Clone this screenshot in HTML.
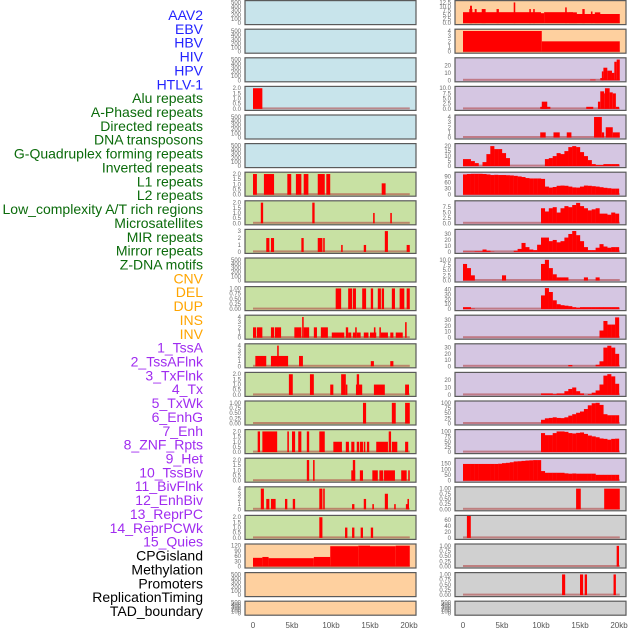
<!DOCTYPE html>
<html><head><meta charset="utf-8">
<style>
html,body{margin:0;padding:0;background:#fff;}
svg{display:block;font-family:"Liberation Sans",sans-serif;}
</style></head>
<body>
<svg id="chart" width="630" height="630" viewBox="0 0 630 630" xmlns="http://www.w3.org/2000/svg">
<g id="labels"></g>
<g id="panels"></g>
<g id="xaxis"></g>
</svg>
<script>
const trackLabels = ["AAV2","EBV","HBV","HIV","HPV","HTLV-1","Alu repeats","A-Phased repeats","Directed repeats","DNA transposons","G-Quadruplex forming repeats","Inverted repeats","L1 repeats","L2 repeats","Low_complexity A/T rich regions","Microsatellites","MIR repeats","Mirror repeats","Z-DNA motifs","CNV","DEL","DUP","INS","INV","1_TssA","2_TssAFlnk","3_TxFlnk","4_Tx","5_TxWk","6_EnhG","7_Enh","8_ZNF_Rpts","9_Het","10_TssBiv","11_BivFlnk","12_EnhBiv","13_ReprPC","14_ReprPCWk","15_Quies","CPGisland","Methylation","Promoters","ReplicationTiming","TAD_boundary"];
const labelGroups = [0,0,0,0,0,0,1,1,1,1,1,1,1,1,1,1,1,1,1,2,2,2,2,2,3,3,3,3,3,3,3,3,3,3,3,3,3,3,3,4,4,4,4,4];
const xTickValues = [0,5,10,15,20];
const xTickLabels = ["0","5kb","10kb","15kb","20kb"];

// left-column segment data [startKb, endKb, value]
const L3 = [[0,1.2,2]];
const L6 = [[0,0.5,2],[1.4,2.7,2],[4.4,4.9,2],[5.5,6.2,2],[6.5,7.1,2],[8.3,9.2,2],[9.4,9.9,2],[16.5,17.0,1.1]];
const L7 = [[1.0,1.3,2],[7.6,7.9,2],[15.4,15.6,1],[17.6,17.8,1]];
const L8 = [[1.7,2.1,2],[2.3,2.7,2],[6.2,6.5,2],[8.3,8.9,2],[9.0,9.2,2],[11.3,11.5,1],[14.2,14.5,1],[16.9,17.3,3],[19.7,20.1,1]];
const L10 = [[10.6,11.3,1],[12.2,12.7,1],[12.8,13.2,1],[14.0,14.5,1],[15.1,15.4,1],[16.0,16.4,1],[16.5,16.8,1],[17.8,18.2,1],[18.8,19.4,1],[19.7,20.1,1]];
const L11 = [[0,0.4,2],[0.5,1.2,2],[2.3,2.7,2],[2.8,3.6,2],[5.3,6.2,2],[6.3,6.5,4],[6.5,7.2,2],[7.8,8.2,2],[8.7,9.6,2],[10.1,11.7,1],[11.9,12.2,2],[12.2,12.6,1],[12.8,13.2,1],[13.1,13.3,2],[13.3,13.8,1],[14.2,14.8,1],[15.0,15.8,1],[15.5,15.7,2],[16.2,16.4,2],[16.4,17.3,1],[17.6,18.0,1],[18.3,19.2,1],[19.5,19.7,3]];
const L12 = [[0.3,1.7,2],[2.3,4.5,2],[3.1,3.3,4],[5.9,6.4,2],[15.1,15.5,1],[17.6,18.0,1]];
const L13 = [[4.6,5.1,2],[7.3,7.8,2],[9.9,10.3,1],[11.3,11.9,2],[11.9,12.1,1],[13.2,14.0,1],[13.3,13.6,2],[15.5,16.9,1],[19.5,20.0,1]];
const L14 = [[14.1,14.5,1],[17.8,18.3,1],[19.5,20.1,1]];
const L15 = [[0.6,0.9,2],[1.2,3.1,2],[4.4,4.6,2],[5.0,5.4,2],[5.8,6.2,2],[6.9,7.2,2],[8.5,9.2,2],[10.3,11.4,1],[11.9,12.3,1],[12.6,13.0,1],[13.3,13.6,1],[13.7,14.1,1],[14.2,14.4,1],[14.6,14.9,1],[15.8,17.3,1],[17.4,17.7,2],[17.8,18.5,1],[19.5,19.9,1]];
const L16 = [[6.9,7.2,2],[7.7,7.9,2],[12.6,13.1,1],[12.8,13.1,2],[13.7,14.1,1],[15.3,16.0,1],[16.2,16.7,1],[16.8,18.2,1],[19.0,19.7,1],[19.9,20.1,1]];
const L17 = [[1.0,1.4,4],[1.7,2.1,2],[2.3,2.9,2],[4.1,4.4,2],[5.1,5.4,2],[8.5,8.9,4],[9.0,9.2,4],[12.7,13.0,1],[14.2,14.5,2],[15.3,15.5,1],[16.9,17.3,3],[18.1,18.3,1],[19.6,20.0,1],[19.8,20.0,2]];
const L18 = [[8.5,8.9,2],[11.8,12.1,1],[12.7,13.0,1],[13.8,14.1,1],[15.1,15.4,1]];
const L19 = [[0,1.2,50],[1.2,2.0,55],[2.0,7.8,48],[7.8,9.9,55],[9.9,13.5,117],[13.5,15.0,120],[15.0,18.3,117],[18.3,20.1,120]];

// right-column segment data
const R0 = [[0,10,6.6],[10,10.4,6],[10.4,14.1,6.6],[14.1,20.1,5.5],[0.8,1.2,8.5],[0.9,1.15,10.5],[1.5,1.75,8.5],[2.4,2.9,8.5],[4.3,4.6,8.5],[6.5,6.7,12.5],[8.5,8.7,8.5],[9.0,9.2,8.5],[13.1,13.3,9.5],[13.6,14.6,6.5],[15.3,15.6,8.5],[16.4,16.6,7],[16.9,17.6,6.5]];
const R1 = [[0,10.1,4],[10.1,20.1,2]];
const R2 = [[16.3,17.0,1],[17.6,18.0,3],[17.8,18.0,12],[18.0,18.5,17],[18.5,19.1,13],[19.1,19.4,10],[19.4,19.7,25],[19.7,20.1,28]];
const R3 = [[9.9,11.2,1],[10.1,10.8,3.5],[15.8,16.7,1],[17.3,17.6,3.5],[17.6,18.1,8.5],[18.1,18.2,7.5],[18.2,18.8,10],[18.8,19.2,8],[19.2,19.6,7.5],[19.6,20.0,1]];
const R4 = [[9.9,10.6,1],[11.6,12.4,1],[13.3,13.9,1],[16.8,17.8,4],[17.8,18.1,1],[18.3,19.2,2],[19.2,20.1,1]];
const R17 = [[14.5,15.1,1],[18.1,20.1,1]];
const R18 = [[0.5,1.0,75]];
const R19 = [[19.7,20.0,1]];
const R20 = [[12.7,13.1,1],[15.0,15.4,1],[15.6,15.9,1],[19.3,19.6,1]];

// right-column binned data (0.5 kb bins, 40 bins)
const R5 = [7,7,5,3,0, 4,12,20,17,17, 13,8,0,0,0, 0,0,0,0,0, 0,7,8,10,13, 12,15,19,20,19, 14,10,6,2,1, 1,2,2,2,2];
const R6 = [100,102,103,103,103, 102,100,97,98,97, 97,96,95,93,90, 87,82,80,80,80, 78,40,35,38,44, 45,44,40,36,35, 40,45,44,42,40, 37,34,32,30,30];
const R7 = [0,0,0,0,0, 0,0,0,0,0, 0,0,0,0,0, 0,0,0,0,0, 7,5.5,7,7.5,5, 7,8,7.5,8.5,9.5, 8,7,6,6.5,7, 4.5,4.5,4,5,4.5];
const R8 = [0.5,0.5,0.5,1,1, 4,2,0.5,0,0, 0,0,0,2,5, 15,8,4,3,12, 24,24,18,20,16, 18,24,30,35,28, 18,8,3,3,7, 13,9,7,8,8];
const R9 = [8,6,2.5,0,0, 0,0,0,0,0, 2.5,0,0,0,0, 0,0,0,0,0, 8,10,6,3,1.5, 1.5,1.5,0,0,0, 0,1.5,0,0,1.5, 0,0,0,0,0];
const R10 = [4,4,1,0,0, 0,0,0,0,0, 0,0,0,0,0, 0,0,0,0,0, 28,43,35,18,10, 8,7,6,4,3, 4,4,4,4,4, 4,4,4,4,4];
const R11 = [0,0,0,0,0, 0,0,0,0,0, 0,0,0,0,0, 0,0,0,0,0, 0,0,0,0,0, 0,0,0,0,0, 0,0,0,0,0, 12,28,22,22,34];
const R12 = [0,0,0,0,0, 0,0,0,0,0, 0,0,0,0,0, 0,0,0,0,0, 0,0,0,0,0, 0,0,2,0,0, 0,0,0,0,2.5, 8,30,33,30,20];
const R13 = [0,0,0,0,0, 0,0,0,0,0, 0,0,0,0,0, 0,0,0,0,0, 2,2,2,1,2, 2,5,8,10,5, 2,0,1,3,6, 14,26,28,25,15];
const R14 = [0,0,0,0,0, 0,0,0,0,0, 0,0,0,0,0, 0,0,0,0,0, 18,25,27,30,27, 26,30,38,45,52, 58,70,88,98,100, 90,45,40,40,40];
const R15 = [0,0,0,0,0, 0,0,0,0,0, 0,0,0,0,0, 0,0,0,0,0, 92,82,82,92,100, 100,98,92,90,93, 95,88,80,76,72, 66,64,60,64,65];
const R16 = [148,148,148,148,148, 148,148,148,148,150, 155,158,163,170,172, 175,178,180,182,182, 85,70,70,70,70, 70,65,62,64,62, 62,62,62,62,52, 52,52,52,52,52];

// tick label sets
const tEmpty = ["0","100","200","300","400","500"];
const tEmptyV = [0,100,200,300,400,500];
const t2 = ["0.0","0.5","1.0","1.5","2.0"]; const t2V = [0,0.5,1,1.5,2];
const t1 = ["0.00","0.25","0.50","0.75","1.00"]; const t1V = [0,0.25,0.5,0.75,1];
const t4 = ["0","1","2","3","4"]; const t4V = [0,1,2,3,4];
const t3 = ["0","1","2","3"]; const t3V = [0,1,2,3];

const BG = {blue:"#c8e4eb", green:"#c8e1a3", peach:"#fed09f", lav:"#d5c6e2", gray:"#d0d0d0"};

const panels = [
 // left column
 {c:0,r:0,bg:"blue",tv:tEmptyV,tl:tEmpty,ymax:520},
 {c:0,r:1,bg:"blue",tv:tEmptyV,tl:tEmpty,ymax:520},
 {c:0,r:2,bg:"blue",tv:tEmptyV,tl:tEmpty,ymax:520},
 {c:0,r:3,bg:"blue",tv:t2V,tl:t2,ymax:2.08,seg:L3},
 {c:0,r:4,bg:"blue",tv:tEmptyV,tl:tEmpty,ymax:520},
 {c:0,r:5,bg:"blue",tv:tEmptyV,tl:tEmpty,ymax:520},
 {c:0,r:6,bg:"green",tv:t2V,tl:t2,ymax:2.08,seg:L6},
 {c:0,r:7,bg:"green",tv:t2V,tl:t2,ymax:2.08,seg:L7},
 {c:0,r:8,bg:"green",tv:t3V,tl:t3,ymax:3.1,seg:L8},
 {c:0,r:9,bg:"green",tv:tEmptyV,tl:tEmpty,ymax:520},
 {c:0,r:10,bg:"green",tv:t1V,tl:t1,ymax:1.04,seg:L10},
 {c:0,r:11,bg:"green",tv:t4V,tl:t4,ymax:4.15,seg:L11},
 {c:0,r:12,bg:"green",tv:t4V,tl:t4,ymax:4.15,seg:L12},
 {c:0,r:13,bg:"green",tv:t2V,tl:t2,ymax:2.08,seg:L13},
 {c:0,r:14,bg:"green",tv:t1V,tl:t1,ymax:1.04,seg:L14},
 {c:0,r:15,bg:"green",tv:t2V,tl:t2,ymax:2.08,seg:L15},
 {c:0,r:16,bg:"green",tv:t2V,tl:t2,ymax:2.08,seg:L16},
 {c:0,r:17,bg:"green",tv:t4V,tl:t4,ymax:4.15,seg:L17},
 {c:0,r:18,bg:"green",tv:t2V,tl:t2,ymax:2.08,seg:L18},
 {c:0,r:19,bg:"peach",tv:[0,30,60,90,120],tl:["0","30","60","90","120"],ymax:124,seg:L19},
 {c:0,r:20,bg:"peach",tv:tEmptyV,tl:tEmpty,ymax:520},
 {c:0,r:21,bg:"peach",tv:tEmptyV,tl:tEmpty,ymax:520},
 // right column
 {c:1,r:0,bg:"peach",tv:[0,2.5,5,7.5,10,12.5],tl:["0.0","2.5","5.0","7.5","10.0","12.5"],ymax:13,seg:R0},
 {c:1,r:1,bg:"peach",tv:t4V,tl:t4,ymax:4.15,seg:R1},
 {c:1,r:2,bg:"lav",tv:[0,10,20],tl:["0","10","20"],ymax:29,seg:R2},
 {c:1,r:3,bg:"lav",tv:[0,2.5,5,7.5,10],tl:["0.0","2.5","5.0","7.5","10.0"],ymax:10.4,seg:R3},
 {c:1,r:4,bg:"lav",tv:t4V,tl:t4,ymax:4.2,seg:R4},
 {c:1,r:5,bg:"lav",tv:[0,5,10,15,20],tl:["0","5","10","15","20"],ymax:21.5,bin:R5},
 {c:1,r:6,bg:"lav",tv:[0,30,60,90],tl:["0","30","60","90"],ymax:106,bin:R6},
 {c:1,r:7,bg:"lav",tv:[0,2.5,5,7.5],tl:["0.0","2.5","5.0","7.5"],ymax:10,bin:R7},
 {c:1,r:8,bg:"lav",tv:[0,10,20,30],tl:["0","10","20","30"],ymax:36,bin:R8},
 {c:1,r:9,bg:"lav",tv:[0,2.5,5,7.5,10],tl:["0.0","2.5","5.0","7.5","10.0"],ymax:10.4,bin:R9},
 {c:1,r:10,bg:"lav",tv:[0,10,20,30,40],tl:["0","10","20","30","40"],ymax:44,bin:R10},
 {c:1,r:11,bg:"lav",tv:[0,10,20,30],tl:["0","10","20","30"],ymax:36,bin:R11},
 {c:1,r:12,bg:"lav",tv:[0,10,20,30],tl:["0","10","20","30"],ymax:34.5,bin:R12},
 {c:1,r:13,bg:"lav",tv:[0,10,20],tl:["0","10","20"],ymax:29,bin:R13},
 {c:1,r:14,bg:"lav",tv:[0,25,50,75,100],tl:["0","25","50","75","100"],ymax:104,bin:R14},
 {c:1,r:15,bg:"lav",tv:[0,25,50,75,100],tl:["0","25","50","75","100"],ymax:104,bin:R15},
 {c:1,r:16,bg:"lav",tv:[0,50,100,150],tl:["0","50","100","150"],ymax:190,bin:R16},
 {c:1,r:17,bg:"gray",tv:t1V,tl:t1,ymax:1.04,seg:R17},
 {c:1,r:18,bg:"gray",tv:[0,20,40,60],tl:["0","20","40","60"],ymax:72,seg:R18},
 {c:1,r:19,bg:"gray",tv:t1V,tl:t1,ymax:1.04,seg:R19},
 {c:1,r:20,bg:"gray",tv:t1V,tl:t1,ymax:1.04,seg:R20},
 {c:1,r:21,bg:"gray",tv:tEmptyV,tl:tEmpty,ymax:520}
];

const NS = "http://www.w3.org/2000/svg";
function mk(tag, attrs, parent){ const e=document.createElementNS(NS,tag); for(const k in attrs) e.setAttribute(k,attrs[k]); parent.appendChild(e); return e; }
const COLS = [{x0:245,x1:416,base:253},{x0:455,x1:626,base:463}];
const KBPX = 7.8;
const xScale = (c,kb) => COLS[c].base + kb*KBPX;
const rowTop = r => 0.6 + 28.6*r;
const rowH = r => r===21 ? 14 : 24;

// labels
const LG = document.getElementById("labels");
const labelColors = ["#2323ff","#0b6b0b","#ffa500","#a02cf0","#000000"];
trackLabels.forEach((t,i)=>{
  const el = mk("text",{x:203,y:(15+13.86*i+5).toFixed(1),"text-anchor":"end","font-size":"14",fill:labelColors[labelGroups[i]]},LG);
  el.textContent = t;
  
  
});

// panels
const PG = document.getElementById("panels");
panels.forEach(p=>{
  const col = COLS[p.c], top = rowTop(p.r), h = rowH(p.r);
  const bottom = top + h - 1.5;
  const yS = v => bottom - Math.min(v,p.ymax*1.02)/p.ymax*(h-2.5);
  const g = mk("g",{},PG);
  
  
  const bg = mk("rect",{x:col.x0,y:top,width:col.x1-col.x0,height:h,fill:BG[p.bg]},g);
  
  
  const segs = [];
  if(p.seg) p.seg.forEach(s=>segs.push(s));
  if(p.bin) p.bin.forEach((v,b)=>{ if(v>0) segs.push([b*0.5,b*0.5+0.52,v]); });
  if(segs.length){
    const bl = mk("rect",{x:xScale(p.c,0),y:bottom-1.5,width:20.1*KBPX,height:2,fill:"rgba(175,60,60,0.55)"},g);
    
    
  }
  segs.forEach(s=>{
    const x1 = xScale(p.c,s[0]), x2 = xScale(p.c,s[1]);
    const yT = Math.max(yS(s[2]), top+0.5);
    const b = mk("rect",{x:x1.toFixed(2),y:yT.toFixed(2),width:Math.max(x2-x1,1.2).toFixed(2),height:(bottom-yT).toFixed(2),fill:"#ff0000"},g);
    
    
  });
  const br = mk("rect",{x:col.x0,y:top,width:col.x1-col.x0,height:h,fill:"none",stroke:"#5a5a5a","stroke-width":"1.2"},g);
  
  
  p.tv.forEach((v,i)=>{
    const t = mk("text",{x:col.x0-4,y:(yS(v)+2).toFixed(1),"text-anchor":"end","font-size":"6",fill:"#6a6a6a"},g);
    t.textContent = p.tl[i];
    
    
  });
});

// x axes
const XG = document.getElementById("xaxis");
[0,1].forEach(c=>{
  xTickValues.forEach((v,i)=>{
    const t = mk("text",{x:xScale(c,v),y:628,"text-anchor":"middle","font-size":"8",fill:"#555"},XG);
    t.textContent = xTickLabels[i];
    
    
  });
});
</script>
</body></html>
